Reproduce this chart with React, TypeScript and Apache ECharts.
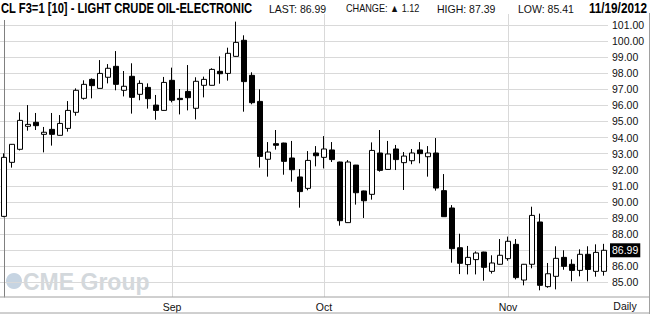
import React, { useEffect, useRef } from 'react';
import * as echarts from 'echarts';

// Trading days (MM/DD, 2012)
const dates = [
  '08/03',
  '08/06', '08/07', '08/08', '08/09', '08/10',
  '08/13', '08/14', '08/15', '08/16', '08/17',
  '08/20', '08/21', '08/22', '08/23', '08/24',
  '08/27', '08/28', '08/29', '08/30', '08/31',
  '09/04', '09/05', '09/06', '09/07',
  '09/10', '09/11', '09/12', '09/13', '09/14',
  '09/17', '09/18', '09/19', '09/20', '09/21',
  '09/24', '09/25', '09/26', '09/27', '09/28',
  '10/01', '10/02', '10/03', '10/04', '10/05',
  '10/08', '10/09', '10/10', '10/11', '10/12',
  '10/15', '10/16', '10/17', '10/18', '10/19',
  '10/22', '10/23', '10/24', '10/25', '10/26',
  '10/29', '10/30', '10/31',
  '11/01', '11/02',
  '11/05', '11/06', '11/07', '11/08', '11/09',
  '11/12', '11/13', '11/14', '11/15', '11/16',
  '11/19',
];

const opens = [
  89.10, 92.46, 93.27, 94.70, 94.95, 94.20, 94.51, 94.14, 94.57, 95.57,
  96.44, 97.62, 97.06, 97.75, 98.43, 96.94, 97.81, 96.69, 97.12, 96.02,
  95.69, 97.56, 96.44, 96.87, 95.82, 97.25, 97.25, 98.12, 97.99, 99.05,
  100.05, 97.87, 96.25, 92.65, 93.62, 93.66, 92.73, 91.55, 90.84, 93.04,
  92.77, 93.23, 92.48, 88.71, 92.29, 90.68, 90.47, 93.04, 92.02, 93.29,
  92.44, 92.56, 93.23, 92.81, 93.04, 90.70, 89.62, 87.15, 86.10, 86.41,
  86.88, 85.68, 86.12, 86.47, 87.36, 85.14, 86.12, 88.75, 84.73, 85.37,
  86.55, 86.12, 85.74, 86.74, 85.68, 85.68,
];
const closes = [
  92.77, 93.58, 95.07, 94.82, 94.74, 94.33, 94.20, 94.88, 95.69, 96.94,
  97.31, 97.23, 97.99, 98.31, 97.31, 97.19, 96.50, 97.37, 96.42, 95.69,
  97.43, 96.32, 96.36, 96.48, 97.50, 97.62, 98.24, 97.97, 99.24, 99.92,
  97.48, 96.17, 92.83, 93.10, 93.52, 92.52, 92.00, 90.64, 92.58, 92.87,
  93.29, 92.63, 88.83, 92.48, 90.57, 90.07, 93.20, 91.96, 92.98, 92.63,
  92.85, 93.04, 93.00, 93.04, 90.86, 89.08, 87.09, 86.18, 86.55, 86.82,
  85.93, 86.20, 86.68, 87.55, 85.29, 86.12, 89.16, 84.81, 85.53, 86.49,
  85.99, 85.74, 86.74, 85.80, 86.86, 86.99,
];
const lows = [
  89.05, 92.13, 93.20, 94.43, 94.47, 93.08, 93.50, 94.12, 94.37, 95.36,
  96.36, 96.44, 97.04, 97.37, 96.94, 96.56, 95.49, 96.32, 95.80, 95.11,
  95.67, 96.19, 95.44, 95.69, 95.13, 96.50, 97.24, 97.35, 97.54, 99.03,
  95.61, 96.07, 92.13, 91.57, 93.25, 91.69, 91.26, 89.64, 90.72, 92.21,
  92.08, 92.48, 88.52, 88.70, 89.83, 89.00, 90.14, 91.88, 92.00, 91.98,
  90.74, 92.34, 92.40, 91.57, 90.70, 89.07, 86.22, 85.51, 85.49, 85.49,
  85.10, 85.54, 86.10, 86.34, 85.18, 84.81, 85.87, 84.50, 84.66, 84.56,
  85.78, 85.06, 85.37, 85.06, 85.35, 85.41,
];
const highs = [
  93.02, 93.60, 95.57, 96.02, 95.53, 94.66, 95.53, 95.40, 96.27, 97.06,
  97.56, 97.68, 98.82, 98.57, 99.38, 98.14, 98.62, 97.56, 97.37, 96.65,
  97.77, 98.35, 97.02, 98.51, 97.75, 97.79, 98.31, 99.05, 99.59, 101.21,
  100.36, 98.06, 97.00, 93.72, 94.47, 93.68, 93.79, 92.04, 93.16, 93.47,
  94.09, 93.72, 92.50, 92.60, 92.30, 90.70, 93.70, 94.47, 93.79, 93.54,
  93.10, 93.29, 93.72, 93.47, 93.97, 91.73, 89.80, 88.02, 87.26, 86.92,
  86.90, 86.68, 87.69, 87.84, 87.69, 86.14, 89.70, 89.27, 86.20, 87.24,
  86.99, 86.43, 87.05, 87.24, 87.36, 87.39,
];

const yTicks = [85, 86, 87, 88, 89, 90, 91, 92, 93, 94, 95, 96, 97, 98, 99, 100, 101];
const monthStartIdx = [21, 40, 63];
const monthLabels = ['Sep', 'Oct', 'Nov'];
const lastPrice = 86.99;
const yLabelTicks = yTicks.filter((v) => Math.abs(v - lastPrice) > 0.5);

const titleText = 'CL F3=1 [10] - LIGHT CRUDE OIL-ELECTRONIC';
const lastText = 'LAST: 86.99';
const changeText = 'CHANGE: \u25B2 1.12';
const highText = 'HIGH: 87.39';
const lowText = 'LOW: 85.41';
const dateText = '11/19/2012';
const periodText = 'Daily';
const watermarkText = 'CME Group';

const Y_MIN = 84.085;
const Y_MAX = 101.685;

const FONT = '"Liberation Sans", Arial, Helvetica, sans-serif';

export default function App() {
  const ref = useRef<HTMLDivElement>(null);

  useEffect(() => {
    if (!ref.current) return;
    const chart = echarts.init(ref.current, undefined, { renderer: 'svg' });

    const candleData = dates.map((_, i) => [opens[i], closes[i], lows[i], highs[i]]);

    const smallFont = `10.5px ${FONT}`;
    const option: any = {
      animation: false,
      backgroundColor: '#ffffff',
      grid: { left: 0, right: 42, top: 14, bottom: 17, containLabel: false },
      xAxis: [
        {
          type: 'category',
          data: dates,
          boundaryGap: true,
          axisLine: { show: false },
          axisTick: { show: false },
          axisLabel: { show: false },
          splitLine: { show: false },
        },
        {
          type: 'value',
          position: 'bottom',
          min: -0.5,
          max: dates.length - 0.5,
          axisLine: { show: false },
          axisTick: { show: false, customValues: monthStartIdx },
          axisLabel: {
            customValues: monthStartIdx,
            formatter: (v: number) => {
              const k = monthStartIdx.indexOf(Math.round(v));
              return k >= 0 ? monthLabels[k] : '';
            },
            margin: 4,
            fontSize: 10.5,
            fontFamily: FONT,
            color: '#111',
          },
          splitLine: { show: true, lineStyle: { color: '#d9d9d9', width: 1 } },
        },
      ],
      yAxis: {
        type: 'value',
        position: 'right',
        min: Y_MIN,
        max: Y_MAX,
        axisLine: { show: true, lineStyle: { color: '#808080', width: 1 } },
        axisTick: { show: false, customValues: yTicks },
        axisLabel: {
          customValues: yLabelTicks,
          formatter: (v: number) => v.toFixed(2),
          margin: 4,
          fontSize: 10.5,
          fontFamily: FONT,
          color: '#111',
        },
        splitLine: { show: true, lineStyle: { color: '#d9d9d9', width: 1 } },
      },
      series: [
        {
          type: 'candlestick',
          xAxisIndex: 0,
          yAxisIndex: 0,
          data: candleData,
          barWidth: 5,
          itemStyle: {
            color: '#ffffff',
            color0: '#000000',
            borderColor: '#000000',
            borderColor0: '#000000',
            borderColorDoji: '#000000',
            borderWidth: 1,
          },
          emphasis: { disabled: true },
          markLine: {
            silent: true,
            symbol: ['none', 'none'],
            emphasis: { disabled: true },
            lineStyle: { width: 0, color: 'rgba(0,0,0,0)', type: 'solid' },
            label: {
              show: true,
              position: 'end',
              distance: 2,
              formatter: lastPrice.toFixed(2),
              color: '#ffffff',
              backgroundColor: '#000000',
              padding: [2, 2, 1, 2],
              fontSize: 10.5,
              fontFamily: FONT,
            },
            data: [{ yAxis: lastPrice }],
          },
        },
      ],
      graphic: [
        // watermark
        {
          type: 'circle',
          z: -5,
          silent: true,
          shape: { cx: 14, cy: 281, r: 8 },
          style: { fill: '#c6d4e2' },
        },
        {
          type: 'text',
          z: -5,
          silent: true,
          x: 23,
          y: 281.5,
          style: {
            text: watermarkText,
            font: `bold 23px ${FONT}`,
            fill: '#d3d8dc',
            verticalAlign: 'middle',
            align: 'left',
          },
        },
        // header background
        {
          type: 'rect',
          z: 50,
          silent: true,
          shape: { x: 0, y: 0, width: 260, height: 20 },
          style: { fill: '#ffffff' },
        },
        {
          type: 'rect',
          z: 50,
          silent: true,
          shape: { x: 260, y: 0, width: 390, height: 13 },
          style: { fill: '#ffffff' },
        },
        {
          type: 'text',
          z: 51,
          silent: true,
          x: 1,
          y: 9,
          scaleX: 0.8,
          style: {
            text: titleText,
            font: `bold 14px ${FONT}`,
            fill: '#000',
            verticalAlign: 'middle',
            align: 'left',
          },
        },
        {
          type: 'text', z: 51, silent: true, x: 269, y: 8.5,
          style: { text: lastText, font: smallFont, fill: '#111', verticalAlign: 'middle', align: 'left' },
        },
        {
          type: 'text', z: 51, silent: true, x: 346, y: 8.5, scaleX: 0.87,
          style: { text: changeText, font: smallFont, fill: '#111', verticalAlign: 'middle', align: 'left' },
        },
        {
          type: 'text', z: 51, silent: true, x: 437, y: 8.5,
          style: { text: highText, font: smallFont, fill: '#111', verticalAlign: 'middle', align: 'left' },
        },
        {
          type: 'text', z: 51, silent: true, x: 518, y: 8.5,
          style: { text: lowText, font: smallFont, fill: '#111', verticalAlign: 'middle', align: 'left' },
        },
        {
          type: 'text', z: 51, silent: true, x: 647, y: 8.5, scaleX: 0.84,
          style: { text: dateText, font: `bold 14px ${FONT}`, fill: '#000', verticalAlign: 'middle', align: 'right' },
        },
        // frame lines
        {
          type: 'line', z: 40, silent: true,
          shape: { x1: 0, y1: 297, x2: 650, y2: 297 },
          style: { stroke: '#a0a0a0', lineWidth: 1 },
        },
        {
          type: 'line', z: 40, silent: true,
          shape: { x1: 0, y1: 313, x2: 650, y2: 313 },
          style: { stroke: '#a0a0a0', lineWidth: 1 },
        },
        {
          type: 'line', z: 40, silent: true,
          shape: { x1: 649.5, y1: 0, x2: 649.5, y2: 314 },
          style: { stroke: '#a0a0a0', lineWidth: 1 },
        },
        {
          type: 'text', z: 51, silent: true, x: 625, y: 306,
          style: { text: periodText, font: smallFont, fill: '#111', verticalAlign: 'middle', align: 'center' },
        },
      ],
    };

    chart.setOption(option);
    return () => {
      chart.dispose();
    };
  }, []);

  return (
    <div
      ref={ref}
      style={{ position: 'fixed', left: 0, top: 0, width: 650, height: 314, background: '#fff' }}
    />
  );
}
